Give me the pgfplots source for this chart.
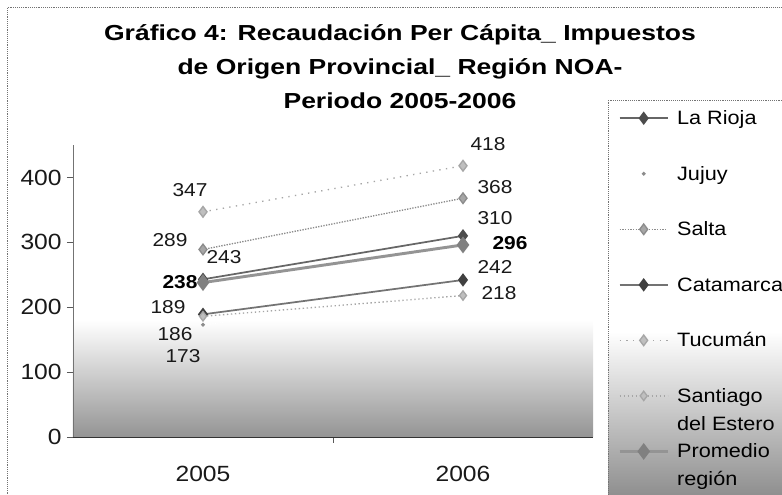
\documentclass[border=0pt]{standalone}
\usepackage{pgfplots}
\pgfplotsset{compat=1.18}
\usepackage{fontspec}
\setmainfont{Liberation Sans}[FakeStretch=1.12]
\newfontfamily\titlefont{Liberation Sans}[FakeStretch=1.22]
\pgfdeclareverticalshading{plotshade}{100bp}{color(0bp)=(black!42); color(25bp)=(black!42); color(45bp)=(white); color(100bp)=(white)}
\pgfdeclareverticalshading{legshade}{100bp}{color(0bp)=(black!45); color(25bp)=(black!45); color(46bp)=(white); color(100bp)=(white)}
\tikzset{lbl/.style={font=\fontsize{14}{14}\selectfont, text=black!90},
  blbl/.style={font=\bfseries\fontsize{14}{14}\selectfont, text=black}}
\newcommand\lstrut{\rule[-5.85pt]{0pt}{19.5pt}}
\newcommand\tstrut{\rule[-6.5pt]{0pt}{21pt}}
\begin{document}
\begin{tikzpicture}
\useasboundingbox (0,0) rectangle (586.5pt,371.25pt);
\begin{scope}
\clip (0,0) rectangle (586.5pt,371.25pt);
% outer frame
\draw[black!55, densely dotted] (5.6pt,-2pt) -- (5.6pt,366pt) -- (590pt,366pt);
% legend background
\shade[shading=legshade] (456pt,296.25pt) rectangle (592pt,-3pt);
\draw[black!55, densely dotted] (592pt,296.25pt) -- (456pt,296.25pt) -- (456pt,-3pt);
% title
\node[font=\titlefont\bfseries\fontsize{16.3}{25.5}\selectfont, align=center, text=black] at (300pt,321pt)
 {Gráfico 4: Recaudación Per Cápita\_ Impuestos\\de Origen Provincial\_ Región NOA-\\Periodo 2005-2006};
\begin{axis}[
  scale only axis, width=390pt, height=219pt,
  at={(54.75pt,43.5pt)}, anchor=south west,
  xmin=-0.5, xmax=1.5, ymin=0, ymax=450,
  axis x line*=bottom, axis y line*=left,
  x axis line style={black!80}, y axis line style={black!55},
  xtick={0.5}, xticklabels={},
  extra x ticks={0,1}, extra x tick labels={2005,2006},
  extra x tick style={major tick length=0pt},
  ytick={0,100,200,300,400},
  tick align=outside, major tick length=4.5pt,
  tick style={black!65},
  /pgf/number format/assume math mode=true,
  ticklabel style={font=\fontsize{16.5}{16.5}\selectfont, text=black!90},
  yticklabel style={xshift=-0.5pt},
  xticklabel style={yshift=-18pt},
  axis background/.style={shade, shading=plotshade},
  clip=false,
  legend style={at={(1.048,1.133)}, anchor=north west, draw=none, fill=none,
    inner sep=0pt, row sep=26.5pt, column sep=6pt,
    font=\fontsize{14.5}{19.5}\selectfont, text=black,
    nodes={inner sep=0pt}, cells={anchor=base west}},
  legend image code/.code={\draw[mark repeat=2,mark phase=2,#1] plot coordinates {(0pt,4.8pt) (18pt,4.8pt) (36pt,4.8pt)};},
]
\addplot[black!60, line width=1.3pt, mark=diamond*, mark size=4pt, mark options={solid, fill=black!70, draw=black!70}]
  coordinates {(0,243) (1,310)};
\addlegendentry{\lstrut La Rioja}
\addplot[white, densely dotted, line width=0.8pt, mark=*, mark size=1pt, mark options={solid, fill=black!45, draw=black!45}]
  coordinates {(0,173) (1,220)};
\addlegendentry{\lstrut Jujuy}
\addplot[black!45, densely dotted, line width=1pt, mark=diamond*, mark size=4pt, mark options={solid, fill=black!35, draw=black!45}]
  coordinates {(0,289) (1,368)};
\addlegendentry{\lstrut Salta}
\addplot[black!55, line width=1.3pt, mark=diamond*, mark size=4pt, mark options={solid, fill=black!75, draw=black!75}]
  coordinates {(0,189) (1,242)};
\addlegendentry{\lstrut Catamarca}
\addplot[black!35, dash pattern=on 1pt off 4pt, line width=1pt, mark=diamond*, mark size=4pt, mark options={solid, fill=black!25, draw=black!35}]
  coordinates {(0,347) (1,418)};
\addlegendentry{\lstrut Tucumán}
\addplot[black!35, dash pattern=on 1pt off 2pt, line width=1pt, mark=diamond*, mark size=3.5pt, mark options={solid, fill=black!25, draw=black!35}]
  coordinates {(0,186) (1,218)};
\addlegendentry{\raisebox{0pt}[13.65pt][2.5pt]{\begin{tabular}[t]{@{}l@{}}\tstrut Santiago\\\tstrut del Estero\end{tabular}}}
\addplot[black!42, line width=2.2pt, mark=diamond*, mark size=4.5pt, mark options={solid, fill=black!50, draw=black!50}]
  coordinates {(0,238) (1,296)};
\addlegendentry{\raisebox{0pt}[13.65pt][2.5pt]{\begin{tabular}[t]{@{}l@{}}\tstrut Promedio\\\tstrut región\end{tabular}}}
% data labels 2005
\node[lbl] at (axis cs:0,347) [xshift=-9.75pt, yshift=16.5pt] {347};
\node[lbl] at (axis cs:0,289) [xshift=-24.75pt, yshift=6.75pt] {289};
\node[lbl] at (axis cs:0,243) [xshift=15.75pt, yshift=16.5pt] {243};
\node[blbl] at (axis cs:0,238) [xshift=-17.25pt, yshift=0pt] {238};
\node[lbl] at (axis cs:0,189) [xshift=-26.25pt, yshift=5.25pt] {189};
\node[lbl] at (axis cs:0,186) [xshift=-21pt, yshift=-13.1pt] {186};
\node[lbl] at (axis cs:0,173) [xshift=-15pt, yshift=-23.6pt] {173};
% data labels 2006
\node[lbl] at (axis cs:1,418) [xshift=18.75pt, yshift=16.5pt] {418};
\node[lbl] at (axis cs:1,368) [xshift=24pt, yshift=8.25pt] {368};
\node[lbl] at (axis cs:1,310) [xshift=24pt, yshift=13.5pt] {310};
\node[blbl] at (axis cs:1,296) [xshift=35.25pt, yshift=1.5pt] {296};
\node[lbl] at (axis cs:1,242) [xshift=24pt, yshift=9.75pt] {242};
\node[lbl] at (axis cs:1,218) [xshift=27pt, yshift=1.5pt] {218};
\end{axis}
\end{scope}
\end{tikzpicture}
\end{document}
